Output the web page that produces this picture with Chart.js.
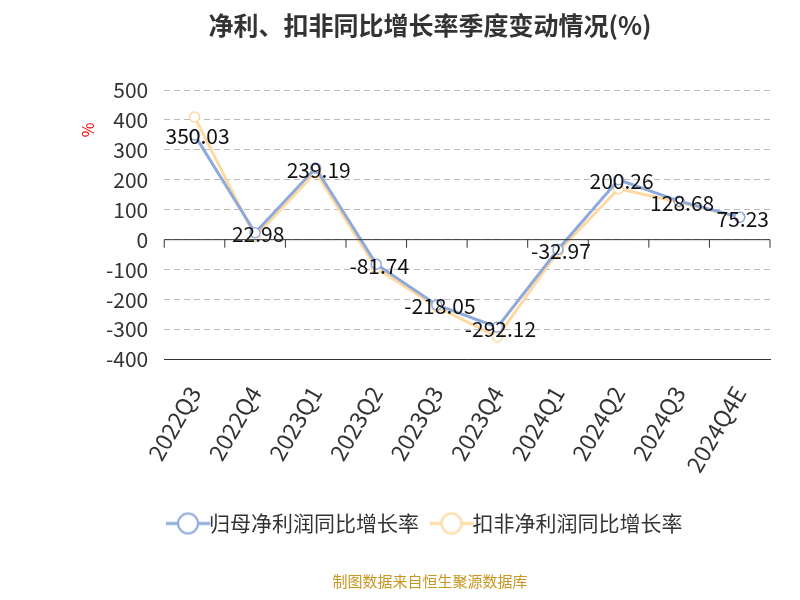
<!DOCTYPE html>
<html><head><meta charset="utf-8">
<script src="https://cdn.jsdelivr.net/npm/chart.js@4"></script>
<style>body{margin:0;background:#fff}#w{width:800px;height:600px;position:relative}</style>
</head><body><div id="w"><canvas id="c"></canvas></div>
<script>
const categories=['2022Q3','2022Q4','2023Q1','2023Q2','2023Q3','2023Q4','2024Q1','2024Q2','2024Q3','2024Q4E'];
const netProfit=[350.03,22.98,239.19,-81.74,-218.05,-292.12,-32.97,200.26,128.68,75.23];
const deductedProfit=[410,10,225,-95,-225,-325,-40,170,125,75];
const yTicks=[500,400,300,200,100,0,-100,-200,-300,-400];
const F='"Noto Sans CJK SC","Noto Sans",sans-serif';
function icon(col){const cv=document.createElement('canvas');cv.width=44;cv.height=24;const c=cv.getContext('2d');c.strokeStyle=col;c.lineWidth=3;c.beginPath();c.moveTo(0,12);c.lineTo(44,12);c.stroke();c.fillStyle='#fff';c.lineWidth=2;c.beginPath();c.arc(22,12,10,0,Math.PI*2);c.fill();c.stroke();return cv;}
const labelPlugin={id:'lbl',afterDatasetsDraw(ch){const c=ch.ctx;const m=ch.getDatasetMeta(0);c.save();c.font='21px '+F;c.fillStyle='#111';c.textAlign='center';c.textBaseline='bottom';
m.data.forEach((p,i)=>c.fillText(netProfit[i].toFixed(2),p.x+3,p.y+12));
c.fillStyle='#e00';c.font='16px '+F;c.translate(88,130);c.rotate(-Math.PI/2);c.textAlign='center';c.textBaseline='middle';c.fillText('%',0,0);c.restore();}};
new Chart(document.getElementById('c'),{type:'line',
data:{labels:categories,datasets:[
{label:'归母净利润同比增长率',data:netProfit,borderColor:'#8eaadb',backgroundColor:'#fff',borderWidth:3,pointRadius:5,pointBorderWidth:1.5,tension:0},
{label:'扣非净利润同比增长率',data:deductedProfit,borderColor:'#ffd9a1',backgroundColor:'#fff',borderWidth:3,pointRadius:5,pointBorderWidth:1.5,tension:0}]},
options:{responsive:true,maintainAspectRatio:false,animation:false,
layout:{padding:{left:90,right:30,top:10,bottom:10}},
plugins:{title:{display:true,text:'净利、扣非同比增长率季度变动情况(%)',font:{family:F,size:25,weight:'bold'},color:'#333',padding:{top:0,bottom:50}},
legend:{position:'bottom',labels:{font:{family:F,size:21},color:'#333',usePointStyle:true,padding:22,
 generateLabels(ch){return ch.data.datasets.map((d,i)=>({text:d.label,pointStyle:icon(d.borderColor),fontColor:'#333',datasetIndex:i,lineWidth:0,strokeStyle:'transparent',fillStyle:'transparent'}));}}},
subtitle:{display:true,position:'bottom',text:'制图数据来自恒生聚源数据库',color:'#c8961e',font:{family:F,size:15},padding:{top:28}},tooltip:{enabled:false}},
scales:{x:{offset:true,grid:{display:false},ticks:{font:{family:F,size:23},color:'#333',maxRotation:60,minRotation:60,padding:14},border:{color:'#333'}},
y:{min:-400,max:500,afterBuildTicks(a){a.ticks=yTicks.map(v=>({value:v}));},grid:{color:'#bbb',drawTicks:false},border:{display:true,width:0,color:'transparent',dash:[6,4]},
ticks:{font:{family:F,size:21},color:'#333',padding:16}}}},
plugins:[labelPlugin,{id:'ax',afterDraw(ch){const c=ch.ctx,x=ch.scales.x,y=ch.scales.y;const y0=y.getPixelForValue(0);c.save();c.strokeStyle='#333';c.lineWidth=1;c.beginPath();c.moveTo(ch.chartArea.left,y0);c.lineTo(ch.chartArea.right,y0);
for(let i=0;i<=categories.length;i++){const px=ch.chartArea.left+i*(ch.chartArea.right-ch.chartArea.left)/categories.length;c.moveTo(px,y0);c.lineTo(px,y0+8);}c.stroke();c.restore();}}]
});
</script></body></html>
